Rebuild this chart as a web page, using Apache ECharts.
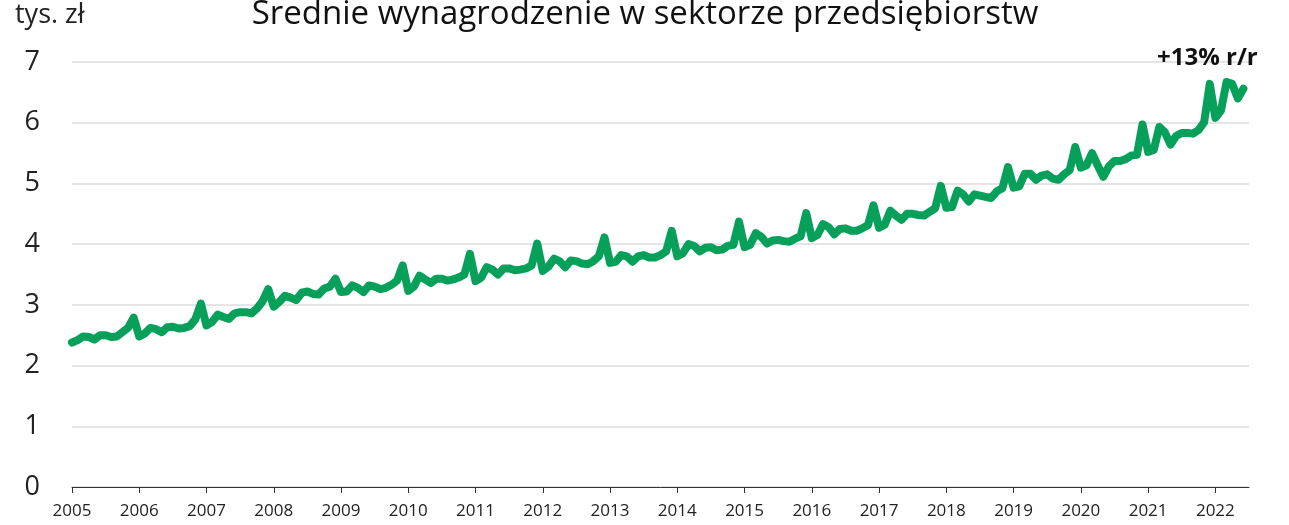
<!DOCTYPE html>
<html>
<head>
<meta charset="utf-8">
<script src="https://cdn.jsdelivr.net/npm/echarts@6/dist/echarts.min.js"></script>
<style>
  html, body { margin: 0; padding: 0; background: #fff; }
  #chart { width: 1289px; height: 525px; }
</style>
</head>
<body>
<div id="chart"></div>
<script>
// ============================================================================
// Data (average monthly wage, thousand PLN, Jan 2005 - Jun 2022)
// ============================================================================

const firstYear = 2005
const yTicks = [0, 1, 2, 3, 4, 5, 6, 7]
const wages = [
    2.38, 2.42, 2.48, 2.47, 2.43, 2.50, 2.50, 2.47, 2.48, 2.55, 2.62, 2.79, // 2005
    2.48, 2.53, 2.62, 2.60, 2.55, 2.63, 2.64, 2.61, 2.62, 2.65, 2.76, 3.02, // 2006
    2.66, 2.72, 2.84, 2.80, 2.77, 2.86, 2.88, 2.88, 2.86, 2.94, 3.06, 3.26, // 2007
    2.97, 3.05, 3.15, 3.12, 3.08, 3.20, 3.22, 3.18, 3.17, 3.27, 3.30, 3.43, // 2008
    3.21, 3.22, 3.32, 3.28, 3.21, 3.32, 3.30, 3.26, 3.28, 3.33, 3.40, 3.65, // 2009
    3.23, 3.30, 3.48, 3.42, 3.36, 3.43, 3.43, 3.40, 3.42, 3.45, 3.50, 3.84, // 2010
    3.39, 3.45, 3.62, 3.58, 3.50, 3.60, 3.60, 3.57, 3.58, 3.60, 3.65, 4.01, // 2011
    3.56, 3.63, 3.76, 3.72, 3.62, 3.73, 3.72, 3.68, 3.67, 3.72, 3.80, 4.11, // 2012
    3.69, 3.71, 3.82, 3.80, 3.71, 3.80, 3.82, 3.78, 3.78, 3.82, 3.88, 4.22, // 2013
    3.80, 3.85, 4.00, 3.97, 3.88, 3.94, 3.95, 3.90, 3.91, 3.97, 3.99, 4.37, // 2014
    3.95, 3.99, 4.18, 4.12, 4.01, 4.06, 4.07, 4.05, 4.04, 4.09, 4.13, 4.51, // 2015
    4.10, 4.15, 4.33, 4.28, 4.16, 4.25, 4.26, 4.22, 4.22, 4.26, 4.31, 4.64, // 2016
    4.27, 4.32, 4.55, 4.47, 4.40, 4.50, 4.50, 4.48, 4.47, 4.53, 4.59, 4.96, // 2017
    4.60, 4.61, 4.88, 4.82, 4.70, 4.82, 4.80, 4.78, 4.76, 4.87, 4.92, 5.27, // 2018
    4.93, 4.95, 5.16, 5.16, 5.06, 5.13, 5.15, 5.08, 5.06, 5.15, 5.22, 5.60, // 2019
    5.26, 5.30, 5.50, 5.30, 5.11, 5.28, 5.37, 5.37, 5.40, 5.46, 5.47, 5.97, // 2020
    5.52, 5.55, 5.93, 5.84, 5.64, 5.78, 5.83, 5.83, 5.82, 5.88, 6.01, 6.64, // 2021
    6.08, 6.20, 6.67, 6.64, 6.40, 6.56                                      // 2022
]
const lastLabel = '+13% r/r'

// one category per month, plus one empty slot so the axis runs past the last point
const months = []
for (let i = 0; i <= wages.length; i++) {
    months.push((firstYear + Math.floor(i / 12)) + '-' + String(i % 12 + 1).padStart(2, '0'))
}

// ============================================================================
// Chart
// ============================================================================

const fontFamily = "'Open Sans', 'Noto Sans', sans-serif"
const lineColor = '#06a05a'
const lastIdx = wages.length - 1

const isYearStart = (idx) => idx % 12 === 0

const chart = echarts.init(document.getElementById('chart'))
chart.setOption({
    animation: false,
    textStyle: { fontFamily: fontFamily },
    title: {
        text: 'Średnie wynagrodzenie w sektorze przedsiębiorstw',
        left: 640,
        textAlign: 'center',
        top: -7,
        textStyle: { fontSize: 33, fontWeight: 'normal', color: '#111', fontFamily: fontFamily }
    },
    graphic: [{
        type: 'text',
        left: 15,
        top: 2,
        style: { text: 'tys. zł', fontSize: 27, fill: '#222', fontFamily: fontFamily }
    }],
    grid: { left: 72, right: 40, top: 62, bottom: 38 },
    xAxis: {
        type: 'category',
        data: months,
        boundaryGap: false,
        axisLine: { lineStyle: { color: '#333', width: 1 } },
        axisTick: { interval: isYearStart, length: 6, lineStyle: { color: '#333' } },
        axisLabel: {
            interval: isYearStart,
            formatter: (v) => v.slice(0, 4),
            fontSize: 17,
            color: '#222',
            margin: 16,
            hideOverlap: false
        },
        splitLine: { show: false }
    },
    yAxis: {
        type: 'value',
        min: yTicks[0],
        max: yTicks[yTicks.length - 1],
        interval: 1,
        axisLine: { show: false },
        axisTick: { show: false },
        axisLabel: { fontSize: 27, color: '#222', margin: 32 },
        splitLine: { lineStyle: { color: '#dcdcdc', width: 1.5 } }
    },
    series: [{
        type: 'line',
        data: wages,
        symbol: 'none',
        smooth: false,
        lineStyle: { color: lineColor, width: 8, join: 'round', cap: 'round' },
        itemStyle: { color: lineColor },
        markPoint: {
            symbol: 'circle',
            symbolSize: 0,
            silent: true,
            data: [{ coord: [months[lastIdx], wages[lastIdx]], value: lastLabel }],
            label: {
                show: true,
                position: 'top',
                offset: [-36, -14],
                formatter: lastLabel,
                color: '#111',
                fontWeight: 'bold',
                fontSize: 24,
                fontFamily: fontFamily
            }
        }
    }]
})
</script>
</body>
</html>
